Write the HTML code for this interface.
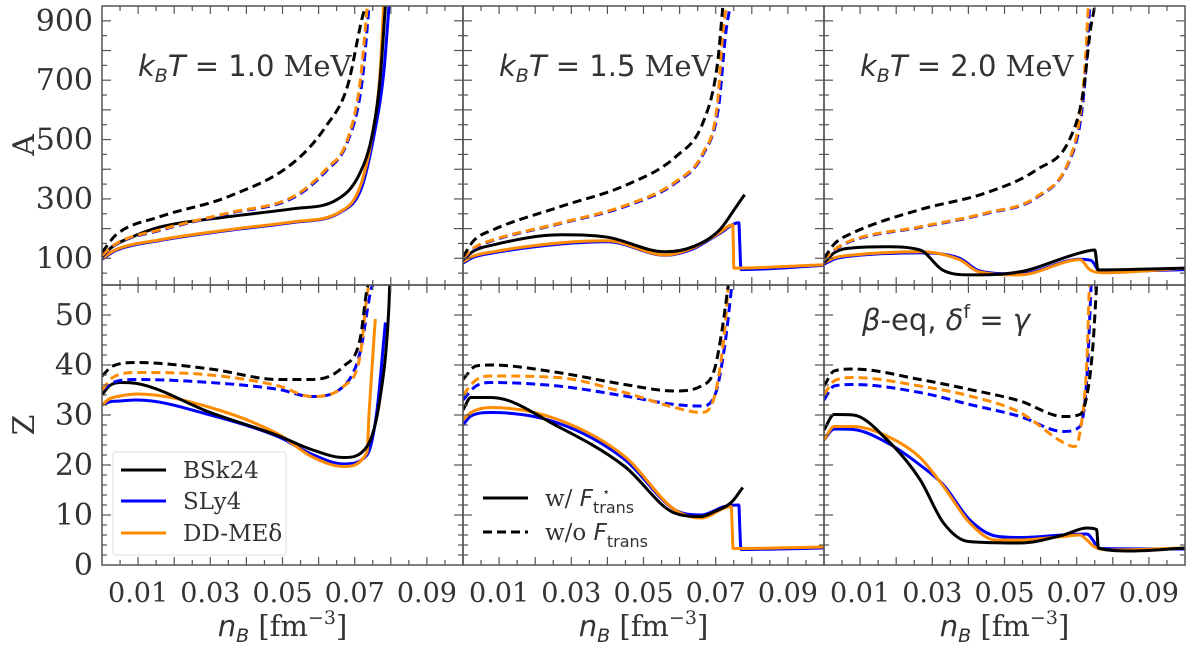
<!DOCTYPE html>
<html><head><meta charset="utf-8">
<style>
html,body{margin:0;padding:0;background:#fff;}
svg{display:block;}
text{font-family:"DejaVu Serif","Liberation Serif",serif;fill:#333;}
.it{font-family:"DejaVu Sans","Liberation Sans",sans-serif;font-style:italic;}
.sans{font-family:"DejaVu Sans","Liberation Sans",sans-serif;}
</style></head>
<body>
<svg id="fig" width="1200" height="646" viewBox="0 0 1200 646" xmlns="http://www.w3.org/2000/svg"></svg>
<script>
// ---------- data ----------
const xTickLabels = ["0.01","0.03","0.05","0.07","0.09"];
const xTickValues = [0.01,0.03,0.05,0.07,0.09];
const aTickValues = [100,300,500,700,900];
const zTickValues = [0,10,20,30,40,50];
const panelTitles = ["k_BT = 1.0 MeV","k_BT = 1.5 MeV","k_BT = 2.0 MeV"];

// Panel 1 (kT=1.0) A
const p1A_bs_x=[0,0.003,0.008,0.016,0.035,0.053,0.065,0.0715,0.075,0.077,0.0785];
const p1A_bs_y=[105,140,170,205,240,267,297,388,524,700,950];
const p1A_os_x=[0,0.004,0.016,0.035,0.053,0.066,0.0715,0.075,0.077,0.078];
const p1A_os_y=[100,130,162,196,223,257,341,524,720,950];
const p1A_ls_x=[0,0.004,0.016,0.035,0.053,0.066,0.072,0.0755,0.078,0.0795];
const p1A_ls_y=[97,127,160,194,221,255,341,524,720,950];
const p1A_bd_x=[0,0.004,0.016,0.035,0.053,0.062,0.068,0.072,0.073];
const p1A_bd_y=[120,180,240,308,422,544,680,906,950];
const p1A_od_x=[0,0.004,0.016,0.035,0.053,0.062,0.068,0.0715,0.0735];
const p1A_od_y=[110,150,196,253,308,399,500,693,950];
const p1A_ld_x=[0,0.004,0.016,0.035,0.053,0.062,0.068,0.072,0.074];
const p1A_ld_y=[108,148,194,251,304,393,492,690,950];
// Panel 1 Z
const p1Z_bs_x=[0,0.002,0.005,0.0097,0.03,0.049,0.058,0.067,0.0734,0.0771,0.0794,0.0797];
const p1Z_bs_y=[34,35.8,36.5,36.3,30.5,25.8,23.1,21.5,23.7,33.7,50.5,56];
const p1Z_os_x=[0,0.002,0.005,0.0097,0.03,0.049,0.058,0.067,0.0734,0.074,0.0757];
const p1Z_os_y=[32,33.2,33.8,34.2,31.5,26.1,21.7,19.7,22.5,30.5,49.2];
const p1Z_ls_x=[0,0.002,0.005,0.0097,0.03,0.049,0.058,0.067,0.0734,0.076,0.0785];
const p1Z_ls_y=[32,32.6,32.8,33,30,25.6,22.2,20.2,22,30,48.5];
const p1Z_bd_x=[0,0.003,0.0097,0.03,0.049,0.058,0.067,0.0715,0.0734,0.0737];
const p1Z_bd_y=[37.8,39.8,40.5,39.2,37.1,37.1,39.8,45.2,55.2,56];
const p1Z_od_x=[0,0.003,0.0097,0.03,0.049,0.058,0.067,0.0715,0.0737,0.0745];
const p1Z_od_y=[35,37.5,38.5,38,35.8,33.7,35.8,41.8,55.2,56];
const p1Z_ld_x=[0,0.003,0.0097,0.03,0.049,0.058,0.067,0.0715,0.0745,0.075];
const p1Z_ld_y=[35,36.5,37.1,36.5,35.1,33.7,35.8,42.5,55,56];

// Panel 2 (kT=1.5) A
const p2A_bs_x=[0,0.003,0.0083,0.027,0.04,0.056,0.0637,0.0711,0.0757,0.078];
const p2A_bs_y=[95,125,145,179,171,122,139,196,274,314];
const p2A_os_x=[0,0.003,0.0083,0.027,0.04,0.056,0.0637,0.071,0.0747,0.0749,0.075,0.1];
const p2A_os_y=[88,108,122,152,159,111,135,186,213,140,67,78];
const p2A_ls_x=[0,0.003,0.0083,0.027,0.04,0.056,0.0637,0.071,0.0764,0.0767,0.077,0.1];
const p2A_ls_y=[84,104,118,148,156,110,132,183,220,140,62,76];
const p2A_bd_x=[0,0.003,0.0083,0.027,0.0454,0.059,0.0665,0.0704,0.072];
const p2A_bd_y=[105,160,196,274,348,443,558,747,950];
const p2A_od_x=[0,0.003,0.0083,0.027,0.0454,0.059,0.0665,0.0704,0.072,0.073];
const p2A_od_y=[100,135,162,219,280,359,456,612,862,950];
const p2A_ld_x=[0,0.003,0.0083,0.027,0.0454,0.059,0.0665,0.0708,0.0728,0.074];
const p2A_ld_y=[98,132,160,217,277,355,450,610,860,950];
// Panel 2 Z
const p2Z_bs_x=[0,0.0022,0.0078,0.0263,0.0448,0.0586,0.066,0.0697,0.0743,0.0775];
const p2Z_bs_y=[31,33.5,33.5,27.7,19.7,10.4,9.7,10.7,12.5,15.5];
const p2Z_os_x=[0,0.0022,0.0078,0.0263,0.0448,0.0586,0.066,0.0725,0.0743,0.0746,0.0748,0.1];
const p2Z_os_y=[29,30.5,31.5,29.1,21.7,11.1,9.4,11.4,11.7,7,3.3,3.6];
const p2Z_ls_x=[0,0.0022,0.0078,0.0263,0.0448,0.0586,0.066,0.0725,0.0764,0.0767,0.077,0.1];
const p2Z_ls_y=[28,29.8,30.5,28.4,21.1,11.1,10,11.7,12,7,3.1,3.4];
const p2Z_bd_x=[0,0.0036,0.0078,0.0263,0.0448,0.0586,0.066,0.0697,0.0718,0.0735];
const p2Z_bd_y=[37.1,39.8,40,38.5,36.1,34.8,35.8,39.2,47.2,56];
const p2Z_od_x=[0,0.0036,0.0078,0.0263,0.0448,0.0586,0.066,0.0697,0.0725,0.0735];
const p2Z_od_y=[34,37,37.8,37.5,34.5,31.5,30.5,33.8,47,56];
const p2Z_ld_x=[0,0.0036,0.0078,0.0263,0.0448,0.0586,0.066,0.0697,0.0725,0.0745];
const p2Z_ld_y=[33,35.8,36.5,35.8,33.8,32.1,31.8,33.8,43.8,56];

// Panel 3 (kT=2.0) A
const p3A_bs_x=[0,0.003,0.008,0.017,0.0266,0.0328,0.0402,0.0541,0.0709,0.075,0.0759,0.1];
const p3A_bs_y=[85,120,135,139,128,61,44,54,118,128,61,67];
const p3A_os_x=[0,0.003,0.008,0.0266,0.0376,0.043,0.0541,0.0709,0.0737,0.0774,0.1];
const p3A_os_y=[85,102,111,122,95,54,44,95,61,51,67];
const p3A_ls_x=[0,0.003,0.008,0.0266,0.0376,0.043,0.0541,0.0709,0.074,0.0765,0.1];
const p3A_ls_y=[80,98,108,118,100,58,47,97,93,55,62];
const p3A_bd_x=[0,0.003,0.008,0.0266,0.045,0.059,0.068,0.0718,0.0737,0.075];
const p3A_bd_y=[100,150,186,264,321,399,500,659,862,950];
const p3A_od_x=[0,0.003,0.008,0.0266,0.045,0.059,0.068,0.0709,0.0723,0.0732];
const p3A_od_y=[95,130,162,206,253,308,433,578,747,950];
const p3A_ld_x=[0,0.003,0.008,0.0266,0.045,0.059,0.068,0.0712,0.0726,0.0736];
const p3A_ld_y=[93,128,160,204,251,305,428,575,745,950];
// Panel 3 Z
const p3Z_bs_x=[0,0.0028,0.0081,0.0174,0.0266,0.0331,0.04,0.0543,0.0663,0.0728,0.0755,0.076,0.085,0.1];
const p3Z_bs_y=[27,30.1,30,25.1,17.1,8.4,4.7,4.4,6,7.4,7.1,3.4,2.8,3.4];
const p3Z_os_x=[0,0.0028,0.0081,0.0174,0.0266,0.0331,0.0404,0.0475,0.0543,0.0663,0.0709,0.0728,0.075,0.08,0.1];
const p3Z_os_y=[25,27.7,27.7,25.8,21.5,15.7,8.4,5,5,5.7,6,5,3.6,3,3.4];
const p3Z_ls_x=[0,0.0028,0.0081,0.0174,0.0266,0.0331,0.0404,0.0475,0.0543,0.0663,0.0728,0.0745,0.076,0.1];
const p3Z_ls_y=[25,27.2,27.1,24.5,20,16,9,5.8,5.5,6,6.2,5,3.3,3.2];
const p3Z_bd_x=[0,0.0028,0.0081,0.0266,0.0404,0.0543,0.0663,0.0709,0.0728,0.0745,0.0755];
const p3Z_bd_y=[35.8,38.8,39.2,37.1,35.1,32.8,29.7,30.1,33.8,43.8,56];
const p3Z_od_x=[0,0.0028,0.0081,0.0266,0.0404,0.0543,0.0663,0.0694,0.0709,0.0728,0.0735];
const p3Z_od_y=[34.1,36.8,37.5,35.8,33.8,30.5,24.5,23.7,26.5,40.5,56];
const p3Z_ld_x=[0,0.0028,0.0081,0.0266,0.0404,0.0543,0.0663,0.0709,0.0728,0.074];
const p3Z_ld_y=[33,35.8,36.1,34.5,32.1,29.7,26.7,27.7,37.1,56];

// ---------- layout ----------
const NS="http://www.w3.org/2000/svg";
const svg=document.getElementById('fig');
const colX=[102,463,824], panelW=361;
const rowTop=[6,285], rowBot=[285,565];
const yLim=[[10,950],[0,56]];
const BLACK="#000", BLUE="#0000ff", ORANGE="#ff8c00";
function mk(tag,attrs,parent){const e=document.createElementNS(NS,tag);for(const k in attrs)e.setAttribute(k,attrs[k]);(parent||svg).appendChild(e);return e;}
function xScale(col,v){return colX[col]+v/0.1*panelW;}
function yScale(row,v){const [lo,hi]=yLim[row];return rowBot[row]-(v-lo)/(hi-lo)*(rowBot[row]-rowTop[row]);}
// monotone cubic (Fritsch-Carlson) path through pixel points
function smoothPath(px,py){
 const n=px.length;if(n<2)return '';
 const d=[],m=[];
 for(let i=0;i<n-1;i++)d.push((py[i+1]-py[i])/(px[i+1]-px[i]||1e-6));
 m[0]=d[0];m[n-1]=d[n-2];
 for(let i=1;i<n-1;i++){m[i]=(d[i-1]*d[i]<=0)?0:(d[i-1]+d[i])/2;}
 for(let i=0;i<n-1;i++){
  if(d[i]===0){m[i]=0;m[i+1]=0;continue;}
  const a=m[i]/d[i],b=m[i+1]/d[i],s=a*a+b*b;
  if(s>9){const t=3/Math.sqrt(s);m[i]=t*a*d[i];m[i+1]=t*b*d[i];}
 }
 let p='M'+px[0].toFixed(1)+','+py[0].toFixed(1);
 for(let i=0;i<n-1;i++){
  const h=(px[i+1]-px[i])/3;
  p+=' C'+(px[i]+h).toFixed(1)+','+(py[i]+m[i]*h).toFixed(1)+' '+(px[i+1]-h).toFixed(1)+','+(py[i+1]-m[i+1]*h).toFixed(1)+' '+px[i+1].toFixed(1)+','+py[i+1].toFixed(1);
 }
 return p;
}

const series=[
 [[p1A_ls_x,p1A_ls_y,BLUE,0],[p1A_os_x,p1A_os_y,ORANGE,0],[p1A_bs_x,p1A_bs_y,BLACK,0],[p1A_ld_x,p1A_ld_y,BLUE,1],[p1A_od_x,p1A_od_y,ORANGE,1],[p1A_bd_x,p1A_bd_y,BLACK,1]],
 [[p2A_ls_x,p2A_ls_y,BLUE,0],[p2A_os_x,p2A_os_y,ORANGE,0],[p2A_bs_x,p2A_bs_y,BLACK,0],[p2A_ld_x,p2A_ld_y,BLUE,1],[p2A_od_x,p2A_od_y,ORANGE,1],[p2A_bd_x,p2A_bd_y,BLACK,1]],
 [[p3A_ls_x,p3A_ls_y,BLUE,0],[p3A_os_x,p3A_os_y,ORANGE,0],[p3A_bs_x,p3A_bs_y,BLACK,0],[p3A_ld_x,p3A_ld_y,BLUE,1],[p3A_od_x,p3A_od_y,ORANGE,1],[p3A_bd_x,p3A_bd_y,BLACK,1]],
 [[p1Z_ls_x,p1Z_ls_y,BLUE,0],[p1Z_os_x,p1Z_os_y,ORANGE,0],[p1Z_bs_x,p1Z_bs_y,BLACK,0],[p1Z_ld_x,p1Z_ld_y,BLUE,1],[p1Z_od_x,p1Z_od_y,ORANGE,1],[p1Z_bd_x,p1Z_bd_y,BLACK,1]],
 [[p2Z_ls_x,p2Z_ls_y,BLUE,0],[p2Z_os_x,p2Z_os_y,ORANGE,0],[p2Z_bs_x,p2Z_bs_y,BLACK,0],[p2Z_ld_x,p2Z_ld_y,BLUE,1],[p2Z_od_x,p2Z_od_y,ORANGE,1],[p2Z_bd_x,p2Z_bd_y,BLACK,1]],
 [[p3Z_ls_x,p3Z_ls_y,BLUE,0],[p3Z_os_x,p3Z_os_y,ORANGE,0],[p3Z_bs_x,p3Z_bs_y,BLACK,0],[p3Z_ld_x,p3Z_ld_y,BLUE,1],[p3Z_od_x,p3Z_od_y,ORANGE,1],[p3Z_bd_x,p3Z_bd_y,BLACK,1]]
];
const seriesNames=["sly4-with","ddme-with","bsk24-with","sly4-without","ddme-without","bsk24-without"];

const defs=mk('defs',{});
for(let row=0;row<2;row++){
 for(let col=0;col<3;col++){
  const idx=row*3+col;
  const cp=mk('clipPath',{id:'c'+idx},defs);
  mk('rect',{x:colX[col],y:rowTop[row],width:panelW,height:rowBot[row]-rowTop[row]},cp);
  const g=mk('g',{'clip-path':'url(#c'+idx+')'});
  
  
  series[idx].forEach((s,si)=>{
   const px=s[0].map(v=>xScale(col,v)), py=s[1].map(v=>yScale(row,v));
   const pl=mk('path',{d:smoothPath(px,py),fill:'none',stroke:s[2],'stroke-width':3,'stroke-linejoin':'round','stroke-linecap':'butt'},g);
   if(s[3])pl.setAttribute('stroke-dasharray','9,5');
   
   
  });
  // ticks
  const tg=mk('g',{stroke:'#555','stroke-width':1.2});
  
  
  const yT=rowTop[row], yB=rowBot[row], xL=colX[col], xR=colX[col]+panelW;
  for(let k=1;k<20;k++){
   const v=k*0.005, x=xScale(col,v);
   const major=(k%2===0);
   const len=major?8:5;
   mk('line',{x1:x,y1:yB,x2:x,y2:yB-len},tg);
   mk('line',{x1:x,y1:yT,x2:x,y2:yT+len},tg);
  }
  if(row===0){
   for(let v=50;v<950;v+=50){const y=yScale(0,v);const major=(v%100===0);const len=major?9:5;
    mk('line',{x1:xL,y1:y,x2:xL+len,y2:y},tg);mk('line',{x1:xR,y1:y,x2:xR-len,y2:y},tg);}
  } else {
   for(let v=2;v<56;v+=2){const y=yScale(1,v);const major=(v%10===0);const len=major?9:5;
    mk('line',{x1:xL,y1:y,x2:xL+len,y2:y},tg);mk('line',{x1:xR,y1:y,x2:xR-len,y2:y},tg);}
  }
  const fr=mk('rect',{x:xL,y:yT,width:panelW,height:yB-yT,fill:'none',stroke:'#555','stroke-width':1.5});
  
  
 }
}
// y tick labels
aTickValues.forEach(v=>{const t=mk('text',{x:93,y:yScale(0,v)+10,'text-anchor':'end','font-size':30});t.textContent=v;
 });
zTickValues.forEach(v=>{const t=mk('text',{x:93,y:yScale(1,v)+10,'text-anchor':'end','font-size':30});t.textContent=v;
 });
// x tick labels + titles
for(let col=0;col<3;col++){
 xTickValues.forEach((v,i)=>{const t=mk('text',{x:xScale(col,v),y:602,'text-anchor':'middle','font-size':27});t.textContent=xTickLabels[i];
  });
 const xt=mk('text',{x:colX[col]+panelW/2,y:636,'text-anchor':'middle','font-size':29});
 xt.innerHTML='<tspan class="it">n</tspan><tspan class="it" font-size="19" dy="6">B</tspan><tspan dy="-6"> [fm</tspan><tspan font-size="19" dy="-12">−3</tspan><tspan dy="12">]</tspan>';
 
 const tt=mk('text',{x:colX[col]+36,y:76,'font-size':29});
 tt.innerHTML='<tspan class="it">k</tspan><tspan class="it" font-size="19" dy="6">B</tspan><tspan class="it" dy="-6">T</tspan><tspan class="sans"> = '+panelTitles[col].split('= ')[1].split(' ')[0]+'</tspan><tspan> MeV</tspan>';
 
}
const ya=mk('text',{x:0,y:0,'font-size':30,'text-anchor':'middle',transform:'translate(34,145) rotate(-90)'});ya.textContent='A';

const za=mk('text',{x:0,y:0,'font-size':30,'text-anchor':'middle',transform:'translate(34,425) rotate(-90)'});za.textContent='Z';

const be=mk('text',{x:862,y:330,'font-size':29});
be.innerHTML='<tspan class="it">β</tspan><tspan class="sans">-eq, </tspan><tspan class="it">δ</tspan><tspan class="sans" font-size="19" dy="-12">f</tspan><tspan class="sans" dy="12"> = </tspan><tspan class="it">γ</tspan>';


// legend 1
const lg=mk('g',{});

mk('rect',{x:113,y:452,width:173,height:103,fill:'#fff',stroke:'#ddd','stroke-width':1,rx:3},lg);
[["BSk24",BLACK,470],["SLy4",BLUE,501],["DD-MEδ",ORANGE,533]].forEach(e=>{
 const l=mk('line',{x1:121,y1:e[2],x2:166,y2:e[2],stroke:e[1],'stroke-width':3},lg);
 
 const t=mk('text',{x:183,y:e[2]+8,'font-size':23},lg);t.textContent=e[0];
 
});
// legend 2
const lg2=mk('g',{});

const l1=mk('line',{x1:483,y1:498,x2:528,y2:498,stroke:BLACK,'stroke-width':3},lg2);

const l2=mk('line',{x1:483,y1:532,x2:528,y2:532,stroke:BLACK,'stroke-width':3,'stroke-dasharray':'9,5'},lg2);

const t1=mk('text',{x:545,y:506,'font-size':23},lg2);
t1.innerHTML='w/ <tspan class="it">F</tspan><tspan class="sans" font-size="16" dy="7">trans</tspan><tspan class="sans" font-size="13" dx="-32" dy="-17">⋆</tspan>';

const t2=mk('text',{x:545,y:540,'font-size':23},lg2);
t2.innerHTML='w/o <tspan class="it">F</tspan><tspan class="sans" font-size="16" dy="7">trans</tspan>';

</script>
</body></html>
